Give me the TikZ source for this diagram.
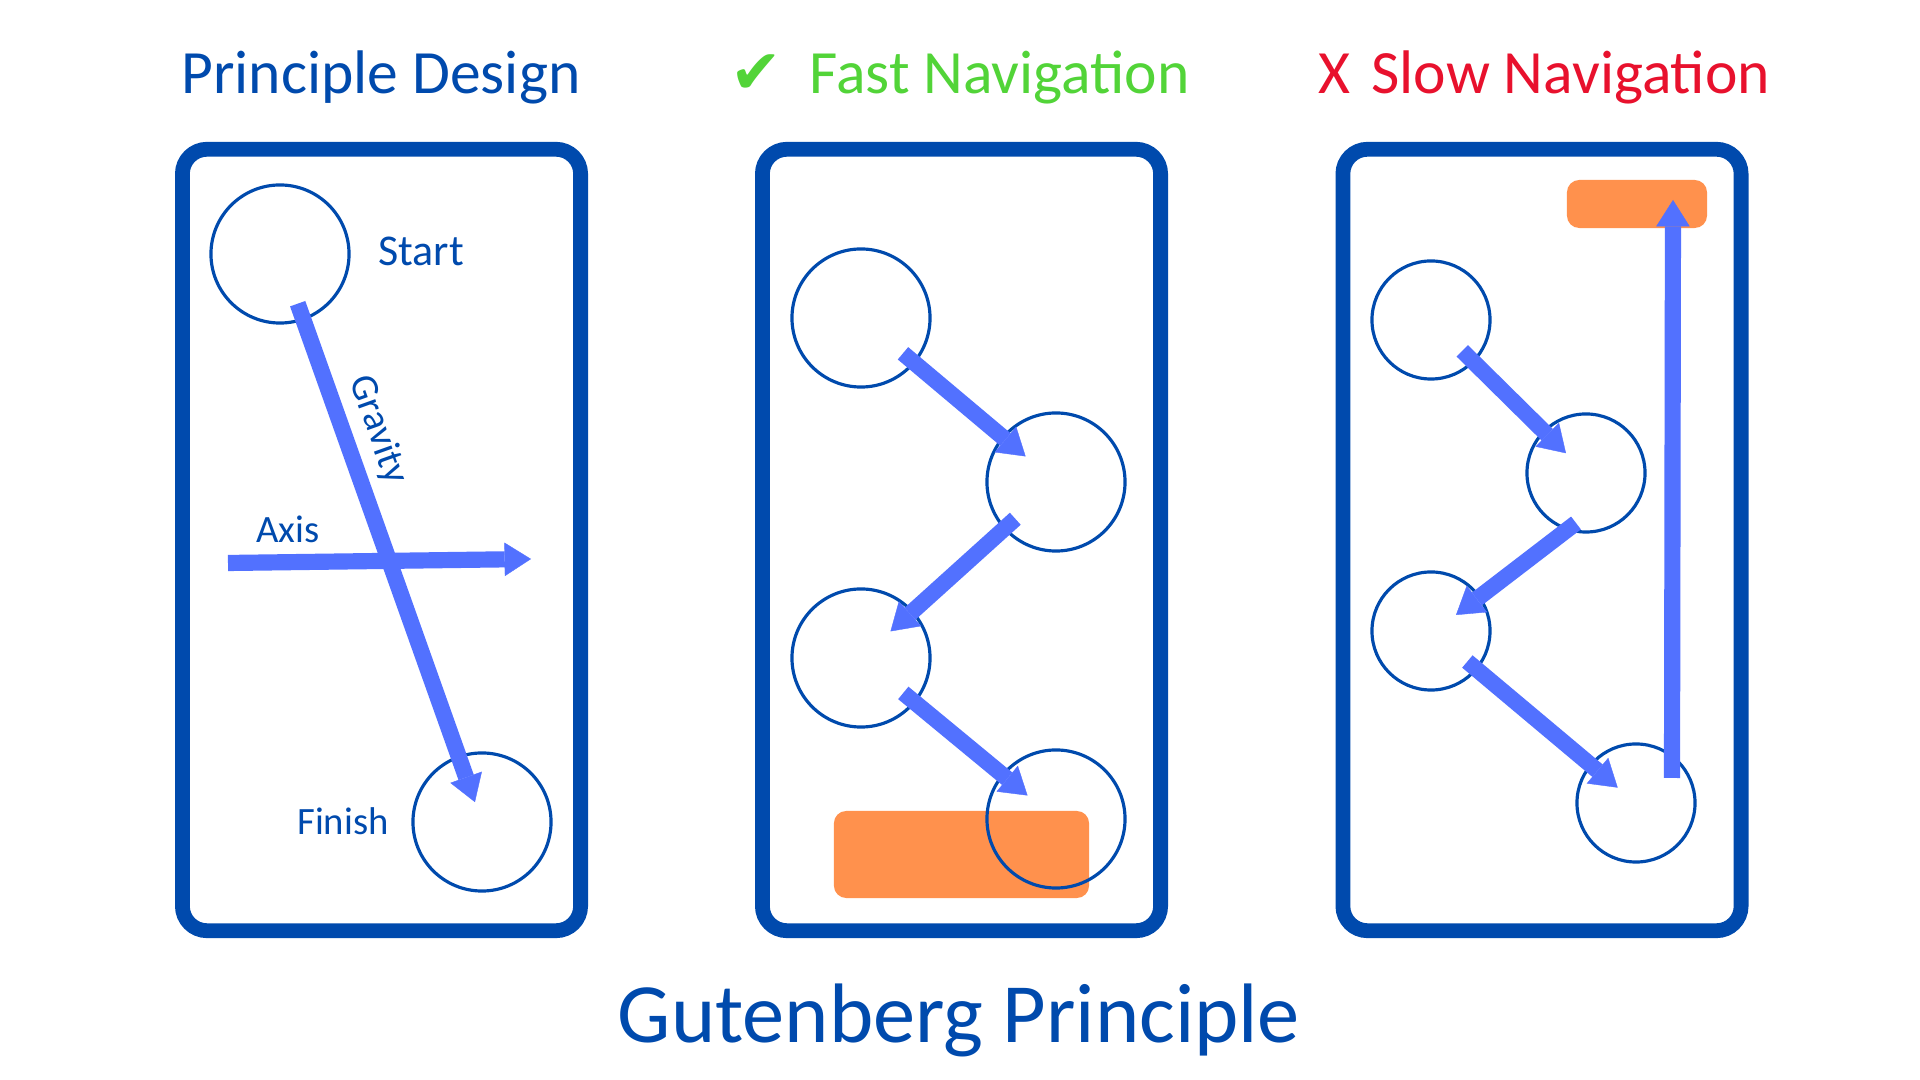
\documentclass[tikz,border=0pt]{standalone}
\usepackage{fontspec}
\setmainfont{Carlito}
\newfontfamily\ticksym{DejaVu Sans}
\usepackage{tikz}
\usetikzlibrary{arrows.meta}
\definecolor{deepblue}{HTML}{004AAD}
\definecolor{arrowblue}{HTML}{5271FF}
\definecolor{tangerine}{HTML}{FF914D}
\definecolor{leaf}{HTML}{52D438}
\definecolor{alarm}{HTML}{E8112D}
\tikzstyle{panel}=[rectangle,
line width=4.2pt,
draw=deepblue,
rounded corners=7pt,
minimum width=3.98cm,
minimum height=7.81cm]
\tikzstyle{ring}=[circle,
line width=0.9pt,
draw=deepblue,
inner sep=0pt,
minimum size=1.38cm]
\tikzstyle{smallring}=[ring,
minimum size=1.18cm]
\tikzstyle{goal}=[rectangle,
fill=tangerine,
rounded corners=3.5pt]
\tikzstyle{flow}=[color=arrowblue,
line width=4.6pt,
-{Triangle[length=7.5pt,width=9.5pt,line width=0.1pt]}]
\tikzstyle{heading}=[anchor=base,
font=\fontsize{17.5}{21}\selectfont]
\tikzstyle{tag}=[text=deepblue,
font=\fontsize{11}{13}\selectfont]

\begin{document}
\begin{tikzpicture}[x=0.01cm,y=-0.01cm]
		% one unit is one pixel of the 1920x1080 sheet, y grows downwards
		\path[use as bounding box,fill=white] (0,0) rectangle (1920,1080);
		
		% The three panels:
		\node (p_d) [panel] at (381.5,540) {};
		\node (p_f) [panel] at (961.5,540) {};
		\node (p_s) [panel] at (1542,540) {};
		
		% Titles over the panels and the caption below them
		\node (t_d) [heading,text=deepblue] at (381,94) {Principle Design};
		\node (t_f) [heading,text=leaf] at (960,94) {{\ticksym ✔}\hspace{0.45em}Fast Navigation};
		\node (t_s) [heading,text=alarm] at (1544,94) {X\hspace{0.35em}Slow Navigation};
		\node (t_g) [heading,text=deepblue,font=\fontsize{24}{28}\selectfont] at (959,1043) {Gutenberg Principle};
		
		% Orange targets go first, the rings are drawn on top of them
		\node (g_f) [goal,minimum width=2.55cm,minimum height=0.87cm] at (961.5,854.5) {};
		\node (g_s) [goal,minimum width=1.40cm,minimum height=0.48cm] at (1637,204) {};
		
		% First panel: start and finish
		\node (s_1) [ring] at (280,254) {};
		\node (f_1) [ring] at (482,822) {};
		% Second panel: zig-zag
		\node (m_1) [ring] at (861,318) {};
		\node (m_2) [ring] at (1056,482) {};
		\node (m_3) [ring] at (861,658) {};
		\node (m_4) [ring] at (1056,819) {};
		% Third panel: zig-zag, then back up
		\node (n_1) [smallring] at (1431,320) {};
		\node (n_2) [smallring] at (1586,473) {};
		\node (n_3) [smallring] at (1431,631) {};
		\node (n_4) [smallring] at (1636,803) {};
		
		% Labels of the first panel
		\node (l_start) [tag,anchor=base,font=\fontsize{12.5}{15}\selectfont] at (421,266) {Start};
		\node (l_finish) [tag,anchor=base] at (343,835) {Finish};
		\node (l_axis) [tag,anchor=base] at (288,543) {Axis};
		\node (l_grav) [tag,rotate=-70.4] at (378,430) {Gravity};
		
		% free ends of the arrows that do not run centre to centre
		\coordinate (ax_l) at (228,563);
		\coordinate (ax_r) at (531,559);
		\coordinate (z_a) at ([shift={(-10,50)}]n_2.center);
		\coordinate (z_b) at ([shift={(25,-16)}]n_3.center);
		\coordinate (up_a) at ([shift={(36,-25)}]n_4.center);
		\coordinate (up_b) at ([shift={(36,-4)}]g_s.center);
		
		% The arrows are now drawn between the rings:
		\draw[flow] (s_1.center) -- (f_1.center) [shorten <=15pt,shorten >=6pt];
		\draw[flow] (ax_l) -- (ax_r);
		
		\path[flow]
		(m_1.center) edge[shorten <=15.6pt,shorten >=11.3pt] (m_2.center)
		(m_2.center) edge[shorten <=15.6pt,shorten >=11.3pt] (m_3.center)
		(m_3.center) edge[shorten <=15.6pt,shorten >=10.5pt] (m_4.center)
		
		(n_1.center) edge[shorten <=12.5pt,shorten >=8pt] (n_2.center)
		(z_a) edge (z_b)
		(n_3.center) edge[shorten <=13.5pt,shorten >=6.8pt] (n_4.center)
		;
		\draw[flow] (up_a) -- (up_b);
\end{tikzpicture}
\end{document}
